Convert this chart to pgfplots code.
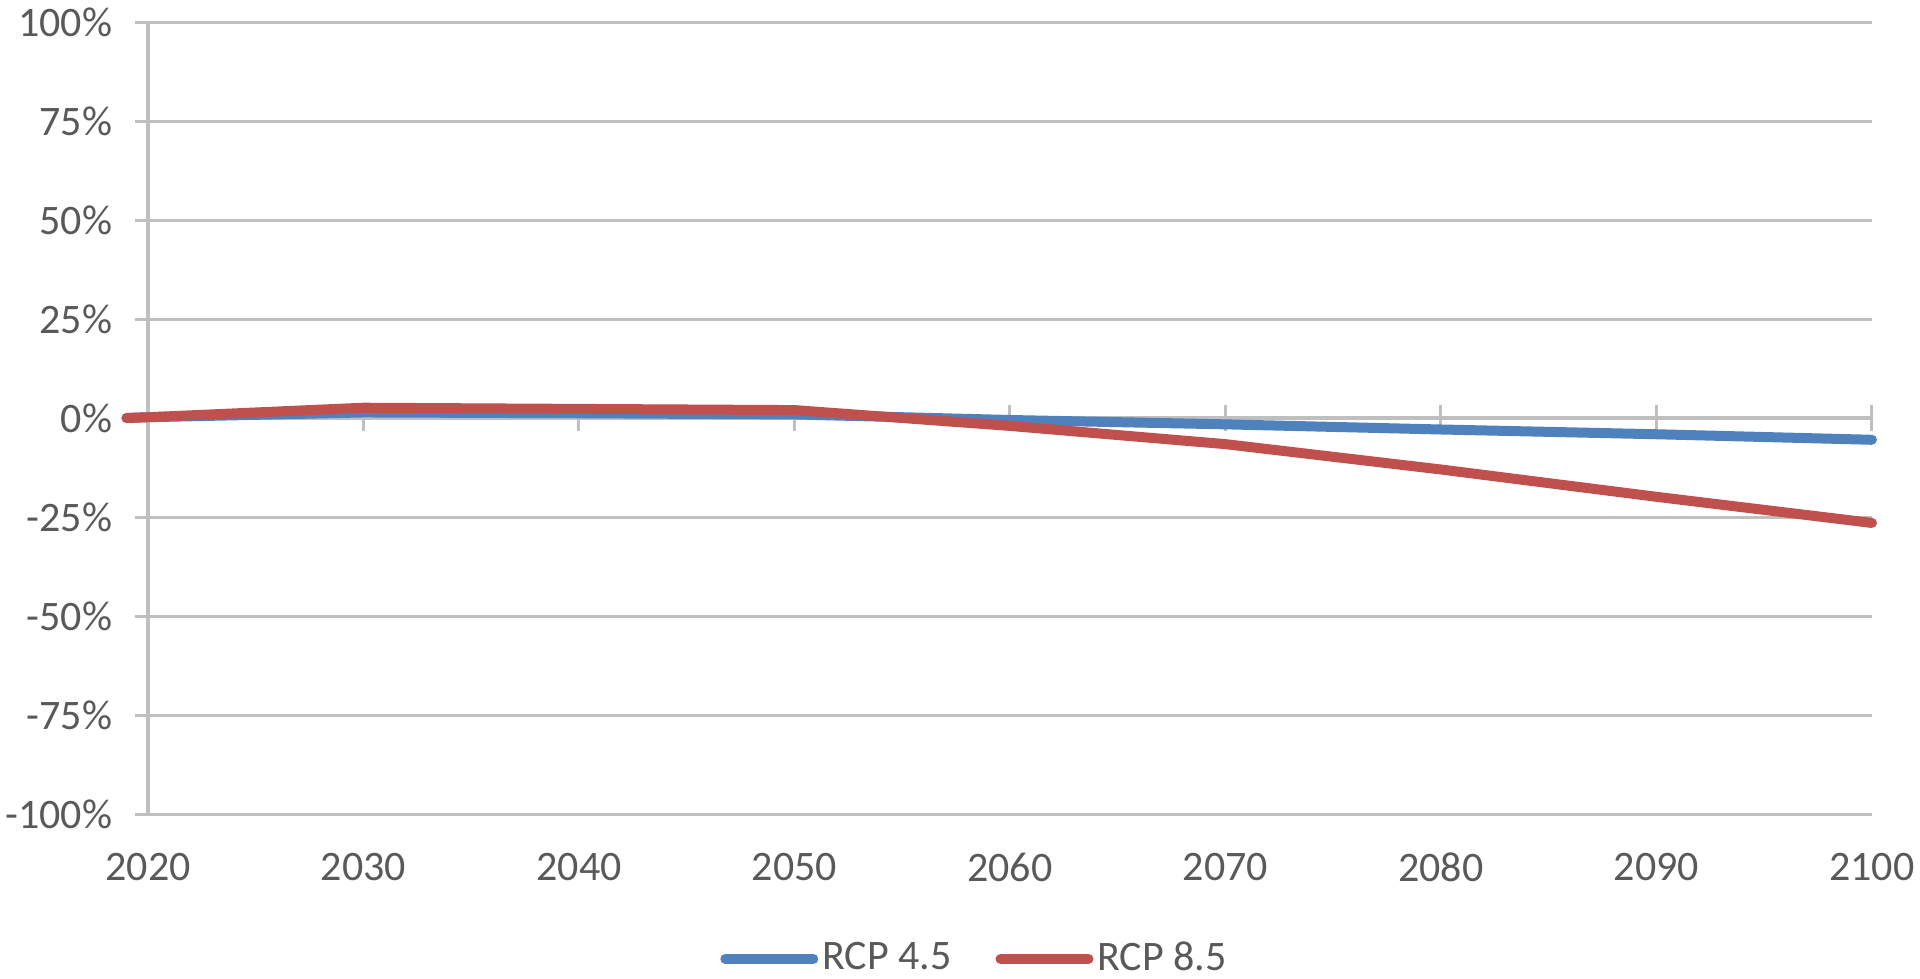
\documentclass[border=0pt]{standalone}
\usepackage{fontspec}
\setmainfont{Carlito}
\usepackage{pgfplots}
\pgfplotsset{compat=1.18}
\definecolor{rcpblue}{HTML}{4F81BD}
\definecolor{rcpred}{HTML}{C0504D}
\definecolor{gridc}{HTML}{BFBFBF}
\definecolor{txt}{HTML}{595959}
\begin{document}
\fontsize{10.5pt}{12pt}\selectfont
\begin{tikzpicture}
\path[use as bounding box] (-37pt,-41pt) rectangle (443pt,203.5pt);
\begin{axis}[at={(0,0)},anchor=south west,
  width=431pt,height=198pt,scale only axis,
  xmin=2020,xmax=2100,ymin=-1,ymax=1,
  axis x line=middle, axis y line=left,
  axis line style={-,gridc,line width=0.8pt},
  xtick={2020,2030,2040,2050,2060,2070,2080,2090,2100},
  xticklabels={},
  ytick={-1,-0.75,-0.5,-0.25,0,0.25,0.5,0.75,1},
  yticklabels={-100\%,-75\%,-50\%,-25\%,0\%,25\%,50\%,75\%,100\%},
  yticklabel style={text=txt,font=\fontsize{10.5pt}{12pt}\selectfont,xshift=-2pt},
  ymajorgrids, grid style={gridc,line width=0.75pt},
  tick style={gridc,line width=0.75pt},
  major tick length=6.5pt, tick align=center,
  clip=false,
  legend columns=2,
  legend style={draw=none,fill=none,at={(0.48,-0.183)},anchor=center,
    font=\fontsize{10.5pt}{12pt}\selectfont, text=txt,
    /tikz/every even column/.append style={column sep=10pt},
    inner sep=0pt, nodes={inner sep=1pt}},
  legend image code/.code={\draw[#1,line cap=round] (0pt,0pt) -- (22pt,0pt);},
]
\addplot[rcpblue,line width=2.5pt,line cap=round,line join=round] coordinates {
(2019,0) (2020,0.002) (2030,0.014) (2040,0.012) (2050,0.009) (2060,-0.005) (2070,-0.016) (2080,-0.029) (2090,-0.041) (2100,-0.055)};
\addlegendentry{RCP 4.5}
\addplot[rcpred,line width=2.5pt,line cap=round,line join=round] coordinates {
(2019,0) (2020,0.002) (2030,0.026) (2040,0.023) (2050,0.020) (2060,-0.020) (2070,-0.066) (2080,-0.130) (2090,-0.199) (2100,-0.265)};
\addlegendentry{RCP 8.5}
\end{axis}
\begin{axis}[at={(0,0)},anchor=south west,
  width=431pt,height=198pt,scale only axis,
  xmin=2020,xmax=2100,ymin=-1,ymax=1,
  hide y axis, axis x line*=bottom, x axis line style={draw=none},
  xtick={2020,2030,2040,2050,2060,2070,2080,2090,2100},
  major tick length=0pt,
  xticklabel style={text=txt,font=\fontsize{10.5pt}{12pt}\selectfont,yshift=-6pt},
  /pgf/number format/assume math mode=true,
  xticklabel={\pgfmathprintnumber[1000 sep={}]{\tick}},
]
\end{axis}
\end{tikzpicture}
\end{document}
